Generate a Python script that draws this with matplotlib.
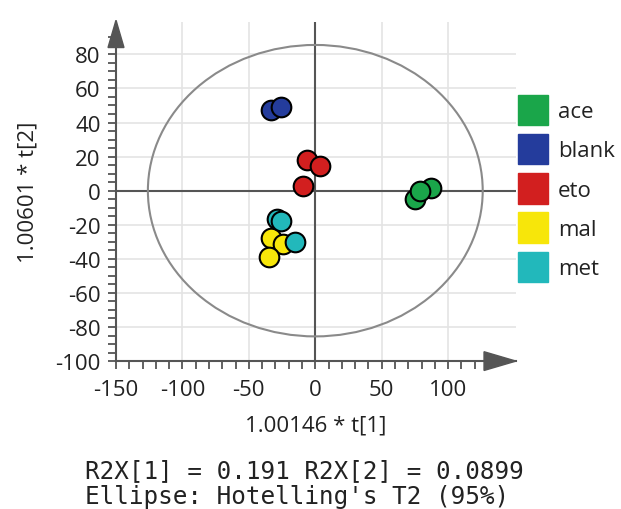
import matplotlib.pyplot as plt
import numpy as np
from matplotlib.patches import Ellipse, Polygon, Patch

# Score values (t[1], t[2])
groups = ['ace', 'blank', 'eto', 'mal', 'met']
colors = ['#1aa64a', '#243c9c', '#d21f1f', '#f7e60a', '#22b8bb']
t1 = {
    'ace': [75, 87, 79],
    'blank': [-33, -26],
    'eto': [-6, 3.5, -9],
    'mal': [-33.5, -24.5, -35],
    'met': [-29, -25.5, -15.5],
}
t2 = {
    'ace': [-5, 1.8, 0],
    'blank': [47.5, 49],
    'eto': [18, 14.5, 3],
    'mal': [-28, -31.5, -39],
    'met': [-16.5, -18, -30],
}
xticks = [-150, -100, -50, 0, 50, 100]
yticks = [-100, -80, -60, -40, -20, 0, 20, 40, 60, 80]

plt.rcParams['font.family'] = ['Open Sans', 'DejaVu Sans']
plt.rcParams['axes.unicode_minus'] = False
axis_col = '#555555'
fs = 16

fig = plt.figure(figsize=(6.21, 5.10), dpi=100)
ax = fig.add_axes([0.1868, 0.290, 0.644, 0.665])
ax.set_xlim(-150, 151)
ax.set_ylim(-100, 99)

# grid
for x in xticks[1:]:
    ax.axvline(x, color='#e4e4e4', lw=1.2, zorder=0)
for y in yticks[1:]:
    ax.axhline(y, color='#e4e4e4', lw=1.2, zorder=0)
ax.axhline(0, color=axis_col, lw=1.5, zorder=1)
ax.axvline(0, color=axis_col, lw=1.5, zorder=1)

# Hotelling T2 ellipse
ax.add_patch(Ellipse((0, 0), 252, 171, fill=False, edgecolor='#8a8a8a', lw=1.5, zorder=2))

for g, c in zip(groups, colors):
    ax.scatter(t1[g], t2[g], s=200, color=c, edgecolors='black', linewidths=1.5, zorder=3)

# axes styling
for s in ['top', 'right']:
    ax.spines[s].set_visible(False)
for s in ['left', 'bottom']:
    ax.spines[s].set_color(axis_col)
    ax.spines[s].set_linewidth(1.5)
ax.set_xticks(xticks)
ax.set_yticks(yticks)
ax.set_xticks(np.arange(-150, 131, 10), minor=True)
ax.set_yticks(np.arange(-100, 91, 5), minor=True)
ax.tick_params(which='both', direction='out', length=6, width=1.3, color=axis_col,
               labelsize=fs, labelcolor='#222222')
ax.tick_params(axis='x', pad=7)
ax.tick_params(axis='y', pad=5)

# arrow heads
ax.add_patch(Polygon([[127, -105.5], [151, -100], [127, -94.5]], closed=True,
                     color=axis_col, clip_on=False, zorder=4))
ax.add_patch(Polygon([[-156, 84], [-150, 100], [-144, 84]], closed=True,
                     color=axis_col, clip_on=False, zorder=4))

ax.set_xlabel('1.00146 * t[1]', fontsize=fs, labelpad=10, color='#222222')
ax.set_ylabel('1.00601 * t[2]', fontsize=fs, labelpad=12, color='#222222')

handles = [Patch(facecolor=c, edgecolor=c) for c in colors]
fig.legend(handles, groups, loc='upper left', bbox_to_anchor=(0.834, 0.812),
           frameon=False, fontsize=fs, handlelength=1.35, handleheight=1.72,
           handletextpad=0.45, labelspacing=0.4, borderpad=0, borderaxespad=0,
           labelcolor='#222222')

fig.text(85 / 621, 1 - 471 / 510, 'R2X[1] = 0.191 R2X[2] = 0.0899', family='DejaVu Sans Mono',
         fontsize=17.5, va='center', ha='left', color='#222222')
fig.text(85 / 621, 1 - 497 / 510, "Ellipse: Hotelling's T2 (95%)", family='DejaVu Sans Mono',
         fontsize=17.5, va='center', ha='left', color='#222222')

fig.savefig('out.png', dpi=100)
